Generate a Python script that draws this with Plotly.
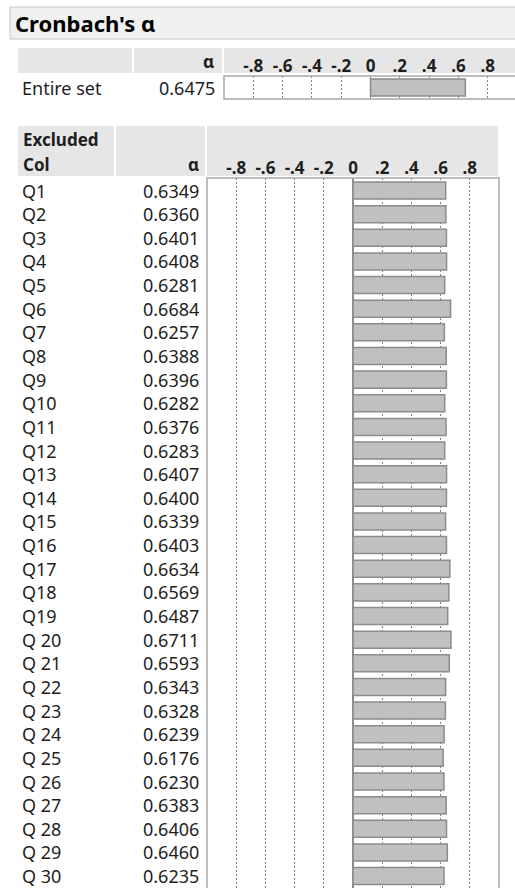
import plotly.graph_objects as go

W, H = 515, 888

title_text = "Cronbach's α"
entire_label = "Entire set"
entire_alpha = 0.6475

cols = ["Q1", "Q2", "Q3", "Q4", "Q5", "Q6", "Q7", "Q8", "Q9", "Q10",
        "Q11", "Q12", "Q13", "Q14", "Q15", "Q16", "Q17", "Q18", "Q19", "Q 20",
        "Q 21", "Q 22", "Q 23", "Q 24", "Q 25", "Q 26", "Q 27", "Q 28", "Q 29", "Q 30"]
alphas = [0.6349, 0.6360, 0.6401, 0.6408, 0.6281, 0.6684, 0.6257, 0.6388, 0.6396, 0.6282,
          0.6376, 0.6283, 0.6407, 0.6400, 0.6339, 0.6403, 0.6634, 0.6569, 0.6487, 0.6711,
          0.6593, 0.6343, 0.6328, 0.6239, 0.6176, 0.6230, 0.6383, 0.6406, 0.6460, 0.6235]

tick_vals = [-0.8, -0.6, -0.4, -0.2, 0, 0.2, 0.4, 0.6, 0.8]
tick_text = ["-.8", "-.6", "-.4", "-.2", "0", ".2", ".4", ".6", ".8"]


def px(x):
    return x / W


def py(y):
    return 1 - y / H


FONT = "Noto Sans"
TXT = "#1e1e1e"
BAR_FILL = "#c0c0c0"
BAR_LINE = "#8c8c8c"
GRID = "#808080"
BOX = "#a8a8a8"
HDR = "#e6e6e6"

fig = go.Figure()

fig.add_trace(go.Bar(
    orientation="h", x=[entire_alpha], y=[entire_label], base=0,
    xaxis="x", yaxis="y", width=0.74,
    marker=dict(color=BAR_FILL, line=dict(color=BAR_LINE, width=1.5)),
    hoverinfo="skip", showlegend=False,
))
fig.add_trace(go.Bar(
    orientation="h", x=alphas, y=cols, base=0,
    xaxis="x2", yaxis="y2", width=0.72,
    marker=dict(color=BAR_FILL, line=dict(color=BAR_LINE, width=1.5)),
    hoverinfo="skip", showlegend=False,
))

pitch = 23.64
top_b = 178
first_c = 190.5
r0 = -(first_c - top_b) / pitch
r1 = (H - top_b - (first_c - top_b)) / pitch

axis_common = dict(
    tickvals=tick_vals, ticktext=tick_text, side="top", ticks="",
    showgrid=True, gridcolor=GRID, gridwidth=1, griddash="2px,2px",
    zeroline=True, zerolinecolor=BAR_LINE, zerolinewidth=1.5,
    showline=False, fixedrange=True,
    tickfont=dict(family=FONT, size=17, color=TXT, weight="bold"),
)

fig.update_layout(
    width=W, height=H, margin=dict(l=0, r=0, t=0, b=0),
    paper_bgcolor="white", plot_bgcolor="white",
    bargap=0,
    xaxis=dict(domain=[px(224), 1], range=[-1, (W - 224) / 146.5 - 1], anchor="y",
               **axis_common),
    yaxis=dict(domain=[py(99), py(76)], range=[-0.5, 0.5], type="category",
               showticklabels=False, showgrid=False, zeroline=False, fixedrange=True),
    xaxis2=dict(domain=[px(207), px(499)], range=[-1, 1], anchor="y2",
                **axis_common),
    yaxis2=dict(domain=[0, py(top_b)], range=[r1, r0], type="category",
                categoryorder="array", categoryarray=cols,
                showticklabels=False, showgrid=False, zeroline=False, fixedrange=True),
)

shapes = []
# title bar
shapes.append(dict(type="rect", xref="paper", yref="paper", x0=px(10), x1=px(530),
                   y0=py(39), y1=py(7), fillcolor="#f0f0f0",
                   line=dict(color="#c8c8c8", width=1), layer="below"))
# top header cells
for a, b in [(18, 132), (134, 222), (224, 530)]:
    shapes.append(dict(type="rect", xref="paper", yref="paper", x0=px(a), x1=px(b),
                       y0=py(73), y1=py(48), fillcolor=HDR, line=dict(width=0), layer="below"))
# bottom header cells
for a, b in [(18, 114), (116, 205), (207, 498)]:
    shapes.append(dict(type="rect", xref="paper", yref="paper", x0=px(a), x1=px(b),
                       y0=py(176), y1=py(126), fillcolor=HDR, line=dict(width=0), layer="below"))
# plot frames
shapes.append(dict(type="rect", xref="x domain", yref="y domain", x0=0, x1=1.2, y0=0, y1=1,
                   line=dict(color=BOX, width=1.5), layer="above"))
shapes.append(dict(type="rect", xref="x2 domain", yref="y2 domain", x0=0, x1=1, y0=-0.1, y1=1,
                   line=dict(color=BOX, width=1.5), layer="above"))
fig.update_layout(shapes=shapes)

ann = []
ann.append(dict(text=title_text, x=px(13), y=py(23), xref="paper", yref="paper",
                xanchor="left", yanchor="middle", showarrow=False,
                font=dict(family=FONT, size=22, color="#000", weight="bold")))
hdr_font = dict(family=FONT, size=17, color=TXT, weight="bold")
ann.append(dict(text="α", x=px(216), y=py(62), xref="paper", yref="paper",
                xanchor="right", yanchor="middle", showarrow=False, font=hdr_font))
ann.append(dict(text="Excluded", x=px(21), y=py(140), xref="paper", yref="paper",
                xanchor="left", yanchor="middle", showarrow=False, font=hdr_font))
ann.append(dict(text="Col", x=px(21), y=py(165), xref="paper", yref="paper",
                xanchor="left", yanchor="middle", showarrow=False, font=hdr_font))
ann.append(dict(text="α", x=px(201), y=py(165), xref="paper", yref="paper",
                xanchor="right", yanchor="middle", showarrow=False, font=hdr_font))

row_font = dict(family=FONT, size=18, color=TXT)
ann.append(dict(text=entire_label, x=px(20), xref="paper", y=entire_label, yref="y",
                xanchor="left", yanchor="middle", showarrow=False, font=row_font))
ann.append(dict(text=f"{entire_alpha:.4f}", x=px(217), xref="paper", y=entire_label, yref="y",
                xanchor="right", yanchor="middle", showarrow=False, font=row_font))
for c, v in zip(cols, alphas):
    ann.append(dict(text=c, x=px(20), xref="paper", y=c, yref="y2",
                    xanchor="left", yanchor="middle", showarrow=False, font=row_font))
    ann.append(dict(text=f"{v:.4f}", x=px(201), xref="paper", y=c, yref="y2",
                    xanchor="right", yanchor="middle", showarrow=False, font=row_font))
fig.update_layout(annotations=ann)

fig.write_html("out.html",
               config=dict(displayModeBar=False, staticPlot=True),
               post_script="document.body.style.margin='0';document.body.style.overflow='hidden';")
